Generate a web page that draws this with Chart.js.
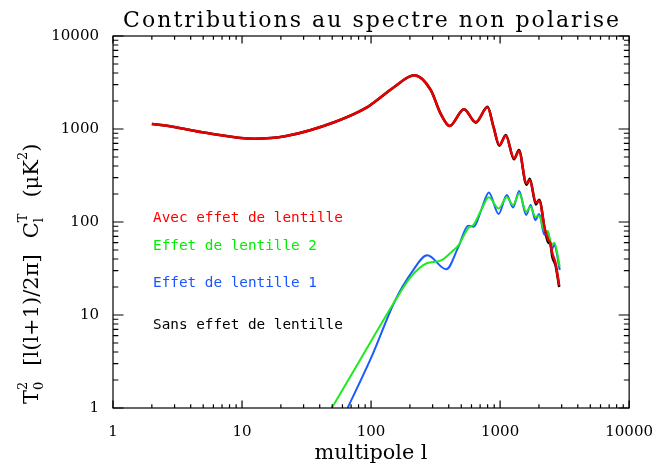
<!DOCTYPE html>
<html>
<head>
<meta charset="utf-8">
<script src="https://cdn.jsdelivr.net/npm/chart.js@4.4.1/dist/chart.umd.min.js"></script>
<style>
  html, body { margin: 0; padding: 0; background: #fff; }
  #wrap { width: 668px; height: 468px; }
</style>
</head>
<body>
<div id="wrap"><canvas id="spectre" width="668" height="468"></canvas></div>
<script>
// multipole l and l(l+1)C_l/2pi in uK^2, one pair of arrays per spectrum
const lensedL = [2, 2.9, 5.2, 12.4, 22, 53, 95, 107, 128, 152, 216, 290, 345, 406, 525, 648, 799, 888, 986, 1107, 1282, 1400, 1600, 1698, 1895, 2009, 2230, 2366, 2450, 2540, 2690, 2870];
const lensedCl = [1132, 1059, 912, 787, 841, 1197, 1738, 1966, 2378, 2850, 3777, 2625, 1475, 1077, 1629, 1189, 1711, 1059, 673, 847, 484, 580, 261, 283, 161, 169, 82, 64, 60, 46, 36, 20.7];

const unlensedL = lensedL;
const unlensedCl = [1132, 1059, 912, 787, 841, 1197, 1738, 1966, 2378, 2850, 3777, 2625, 1475, 1077, 1629, 1170, 1730, 1059, 660, 862, 472, 594, 252, 292, 154, 174, 80, 60, 58, 42, 34, 20];

const lens1L = [65.8, 101, 152, 204, 273, 383, 475, 566, 625, 715, 818, 974, 1127, 1260, 1406, 1592, 1726, 1872, 2009, 2207, 2338, 2506, 2630, 2900];
const lens1Cl = [1, 3.56, 13.9, 28, 43.8, 31, 54, 91, 89, 135, 208, 122, 195, 143, 215, 119, 152, 105, 122, 72.5, 78.7, 50, 56.6, 30.5];

const lens2L = [49.6, 85, 152, 204, 270, 345, 423, 475, 566, 625, 715, 818, 974, 1127, 1260, 1406, 1592, 1726, 1872, 2009, 2207, 2338, 2506, 2630, 2900];
const lens2Cl = [1, 3.56, 13.9, 25.8, 36, 38.4, 48, 56, 86, 94, 135, 184, 140, 184, 152, 203, 129, 146, 114, 116, 80.6, 80, 56.6, 60, 33];

const decadeTicks = [1, 10, 100, 1000, 10000];

const legendLines = [
  { text: 'Avec effet de lentille', color: '#ff0000', y: 222 },
  { text: 'Effet de lentille 2', color: '#00ee00', y: 250 },
  { text: 'Effet de lentille 1', color: '#1a55ff', y: 287 },
  { text: 'Sans effet de lentille', color: '#000000', y: 329 }
];

function toPoints(ls, vals) {
  return ls.map(function (l, i) { return { x: l, y: vals[i] }; });
}

// every 1..9 x 10^n position between 1 and 10000
const minorTicks = [];
decadeTicks.slice(0, 4).forEach(function (d) {
  for (let k = 1; k <= 9; k += 1) minorTicks.push(d * k);
});
minorTicks.push(10000);

function fitSize(ctx, text, family, width) {
  ctx.font = '20px ' + family;
  return 20 * width / ctx.measureText(text).width;
}

// spread a fixed-size string over a given width
function spacedText(ctx, text, font, cx, y, width) {
  ctx.font = font;
  ctx.letterSpacing = '0px';
  const w = ctx.measureText(text).width;
  const extra = (width - w) / (text.length - 1);
  ctx.letterSpacing = extra + 'px';
  ctx.textAlign = 'left';
  ctx.fillText(text, cx - width / 2, y);
  ctx.letterSpacing = '0px';
}

function drawYTitle(ctx, baseX, bottomY) {
  const big = '21px "DejaVu Serif"';
  const small = '13px "DejaVu Serif"';
  const gap = 16;
  ctx.save();
  ctx.translate(baseX, bottomY);
  ctx.rotate(-Math.PI / 2);
  ctx.textAlign = 'left';
  ctx.textBaseline = 'alphabetic';
  let x = 0;

  function put(text, font, dy) {
    ctx.font = font;
    ctx.fillText(text, x, dy);
    return ctx.measureText(text).width;
  }
  function stack(sub, sup) {
    const a = put(sub, small, 5);
    const b = put(sup, small, -11);
    x += Math.max(a, b);
  }

  x += put('T', big, 0);
  stack('0', '2');
  x += gap;
  x += put('[l(l+1)/2\u03C0]', big, 0);
  x += gap;
  x += put('C', big, 0);
  stack('l', 'T');
  x += gap;
  x += put('(\u03BCK', big, 0);
  x += put('2', small, -11);
  put(')', big, 0);
  ctx.restore();
}

const axisDecor = {
  id: 'axisDecor',
  afterDraw(chart) {
    const ctx = chart.ctx;
    const a = chart.chartArea;
    const xs = chart.scales.x;
    const ys = chart.scales.y;

    ctx.save();
    ctx.strokeStyle = '#000';
    ctx.lineWidth = 1.2;
    ctx.strokeRect(a.left, a.top, a.right - a.left, a.bottom - a.top);

    // inward tick marks on the four sides
    ctx.beginPath();
    minorTicks.forEach(function (v) {
      const major = decadeTicks.indexOf(v) >= 0;
      const px = xs.getPixelForValue(v);
      const lx = major ? 7.5 : 3.8;
      ctx.moveTo(px, a.bottom); ctx.lineTo(px, a.bottom - lx);
      ctx.moveTo(px, a.top); ctx.lineTo(px, a.top + lx);
      const py = ys.getPixelForValue(v);
      const ly = major ? 10.5 : 5.3;
      ctx.moveTo(a.left, py); ctx.lineTo(a.left + ly, py);
      ctx.moveTo(a.right, py); ctx.lineTo(a.right - ly, py);
    });
    ctx.stroke();

    ctx.fillStyle = '#000';
    ctx.textBaseline = 'alphabetic';
    const midX = (a.left + a.right) / 2;

    spacedText(ctx, 'Contributions au spectre non polarise', '22px "DejaVu Serif"', midX, 27, 496);

    const xTitle = 'multipole l';
    const xTitleSize = fitSize(ctx, xTitle, '"DejaVu Serif"', 113);
    ctx.font = xTitleSize + 'px "DejaVu Serif"';
    ctx.textAlign = 'center';
    ctx.fillText(xTitle, midX, 459);

    drawYTitle(ctx, 38, 404);

    const legendSize = fitSize(ctx, legendLines[0].text, '"DejaVu Sans Mono"', 190);
    ctx.font = legendSize + 'px "DejaVu Sans Mono"';
    ctx.textAlign = 'left';
    legendLines.forEach(function (item) {
      ctx.fillStyle = item.color;
      ctx.fillText(item.text, 153, item.y);
    });
    ctx.restore();
  }
};

const tickFont = { family: '"DejaVu Serif"', size: 15 };

new Chart(document.getElementById('spectre'), {
  type: 'line',
  data: {
    datasets: [
      { label: 'Avec effet de lentille', data: toPoints(lensedL, lensedCl), borderColor: '#e60000', borderWidth: 2.5 },
      { label: 'Effet de lentille 2', data: toPoints(lens2L, lens2Cl), borderColor: '#1eea1e', borderWidth: 2 },
      { label: 'Effet de lentille 1', data: toPoints(lens1L, lens1Cl), borderColor: '#1a5cff', borderWidth: 2 },
      { label: 'Sans effet de lentille', data: toPoints(unlensedL, unlensedCl), borderColor: '#000000', borderWidth: 2.5 }
    ]
  },
  options: {
    responsive: false,
    animation: false,
    events: [],
    layout: { padding: { top: 36, right: 29, left: 0, bottom: 0 } },
    elements: {
      point: { radius: 0 },
      line: { cubicInterpolationMode: 'monotone', fill: false }
    },
    plugins: {
      legend: { display: false },
      tooltip: { enabled: false }
    },
    scales: {
      x: {
        type: 'logarithmic',
        min: 1,
        max: 10000,
        grid: { display: false, drawTicks: false },
        border: { display: false },
        afterBuildTicks: function (scale) {
          scale.ticks = decadeTicks.map(function (v) { return { value: v }; });
        },
        afterFit: function (scale) { scale.height = 60; },
        ticks: {
          autoSkip: false,
          maxRotation: 0,
          padding: 15,
          color: '#000',
          font: tickFont,
          callback: function (v) { return String(v); }
        }
      },
      y: {
        type: 'logarithmic',
        min: 1,
        max: 10000,
        grid: { display: false, drawTicks: false },
        border: { display: false },
        afterBuildTicks: function (scale) {
          scale.ticks = decadeTicks.map(function (v) { return { value: v }; });
        },
        afterFit: function (scale) { scale.width = 113; },
        ticks: {
          autoSkip: false,
          padding: 14,
          color: '#000',
          font: tickFont,
          callback: function (v) { return String(v); }
        }
      }
    }
  },
  plugins: [axisDecor]
});
</script>
</body>
</html>
